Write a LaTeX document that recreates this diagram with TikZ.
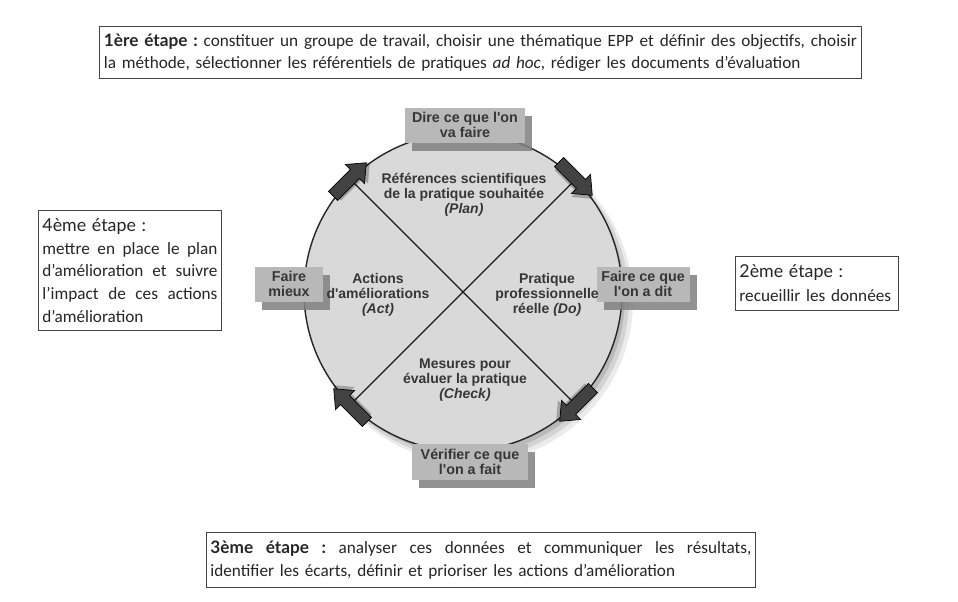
\documentclass[tikz,border=0pt]{standalone}
\usepackage{fontspec}
\setmainfont{Carlito}
\newfontfamily\diagfont{Liberation Sans}
\newfontfamily\headfont{Lato}
\usetikzlibrary{shadows}
\definecolor{boxgray}{HTML}{B8B8B8}
\definecolor{circgray}{HTML}{D9D9D9}
\definecolor{txtgray}{HTML}{363636}
\definecolor{arrgray}{HTML}{424242}
\definecolor{framegray}{HTML}{444444}
\definecolor{bodytxt}{HTML}{262626}
\newcommand\jline[2]{\makebox[#1][s]{\frenchspacing\spaceskip=0.2em plus 1fil\relax #2}}
\tikzset{
  pdcabox/.style={fill=boxgray, text=txtgray, font=\diagfont\bfseries\fontsize{14.3}{15.5}\selectfont,
    align=center, inner sep=0pt,
    drop shadow={shadow xshift=7pt, shadow yshift=-8pt, fill=black!50, opacity=0.85}},
  innerlbl/.style={text=txtgray, font=\diagfont\bfseries\fontsize{14}{15.3}\selectfont, align=center, inner sep=0pt},
  pics/cyclearrow/.style={code={
    \fill[black, opacity=0.25, shift={(2.5,2.5)}] (-24,-6.5) -- (7,-6.5) -- (7,-13.5) -- (23,0) -- (7,13.5) -- (7,6.5) -- (-24,6.5) -- cycle;
    \draw[draw=black, line width=0.7pt, fill=arrgray, line join=miter] (-24,-6.5) -- (7,-6.5) -- (7,-13.5) -- (23,0) -- (7,13.5) -- (7,6.5) -- (-24,6.5) -- cycle;}},
  etape/.style={draw=framegray, line width=0.9pt, fill=white, anchor=north west, align=left,
    inner xsep=4pt, inner ysep=0pt, text=bodytxt, font=\fontsize{17.2}{22.5}\selectfont},
  crossline/.style={draw=black!90, line width=1.3pt}
}
\begin{document}
\begin{tikzpicture}[x=1pt,y=-1pt]
\useasboundingbox[fill=white] (0,0) rectangle (958,602);
% circle shadow
\fill[black, opacity=0.08] (471,301) circle[radius=162pt];
\fill[black, opacity=0.10] (469,299) circle[radius=160pt];
\fill[black, opacity=0.12] (467,297) circle[radius=158pt];
% main circle
\node[circle, draw=black!85, line width=1.4pt, fill=circgray, minimum size=318pt, inner sep=0pt] (cyc) at (463,292) {};
% arrow positions
\coordinate (p1) at (350,179);
\coordinate (p2) at (576,179);
\coordinate (p3) at (576,405);
\coordinate (p4) at (350,405);
\draw[crossline] (p1) -- (p3);
\draw[crossline] (p2) -- (p4);
% arrows
\pic[rotate=45] at (p1) {cyclearrow};
\pic[rotate=-45] at (p2) {cyclearrow};
\pic[rotate=-135] at (p3) {cyclearrow};
\pic[rotate=135] at (p4) {cyclearrow};
% gray boxes
\node[pdcabox, minimum width=120pt, minimum height=35pt] (dire) at (465,125) {Dire ce que l'on\\va faire};
\node[pdcabox, minimum width=68pt, minimum height=35pt] (mieux) at (289,284) {Faire\\mieux};
\node[pdcabox, minimum width=93pt, minimum height=35pt] (dit) at (643,284) {Faire ce que\\l'on a dit};
\node[pdcabox, minimum width=116pt, minimum height=36pt] (verif) at (470,462) {Vérifier ce que\\l'on a fait};
% inner labels
\node[innerlbl] (plan) at (464,195) {Références scientifiques\\de la pratique souhaitée\\\textit{(Plan)}};
\node[innerlbl] (act) at (378,295) {Actions\\d'améliorations\\\textit{(Act)}};
\node[innerlbl] (do) at (547,295) {Pratique\\professionnelle\\réelle \textit{(Do)}};
\node[innerlbl] (check) at (465,380) {Mesures pour\\évaluer la pratique\\\textit{(Check)}};
% etape boxes
\node[etape, minimum width=762pt, minimum height=52pt, text width=753pt] (e1) at (99,26)
  {\noindent\jline{753pt}{{\headfont\bfseries 1ère étape :} constituer un groupe de travail, choisir une thématique EPP et définir des objectifs, choisir}\\
   la méthode, sélectionner les référentiels de pratiques \textit{ad hoc}, rédiger les documents d'évaluation};
\node[etape, minimum width=183pt, minimum height=120pt, text width=175pt, font=\fontsize{17.2}{22.8}\selectfont] (e4) at (38,210)
  {\noindent{\headfont\fontsize{17.8}{22.8}\selectfont 4ème étape :}\\
   \jline{175pt}{mettre en place le plan}\\
   \jline{175pt}{d'amélioration et suivre}\\
   \jline{175pt}{l'impact de ces actions}\\
   d'amélioration};
\node[etape, minimum width=163pt, minimum height=54pt, text width=155pt, font=\fontsize{17.2}{24}\selectfont] (e2) at (735,256)
  {\noindent{\headfont\fontsize{17.8}{24}\selectfont 2ème étape :}\\ recueillir les données};
\node[etape, minimum width=549pt, minimum height=55pt, text width=541pt] (e3) at (206,532)
  {\noindent\jline{541pt}{{\headfont\bfseries 3ème étape :} analyser ces données et communiquer les résultats,}\\
   identifier les écarts, définir et prioriser les actions d'amélioration};
\end{tikzpicture}
\end{document}
